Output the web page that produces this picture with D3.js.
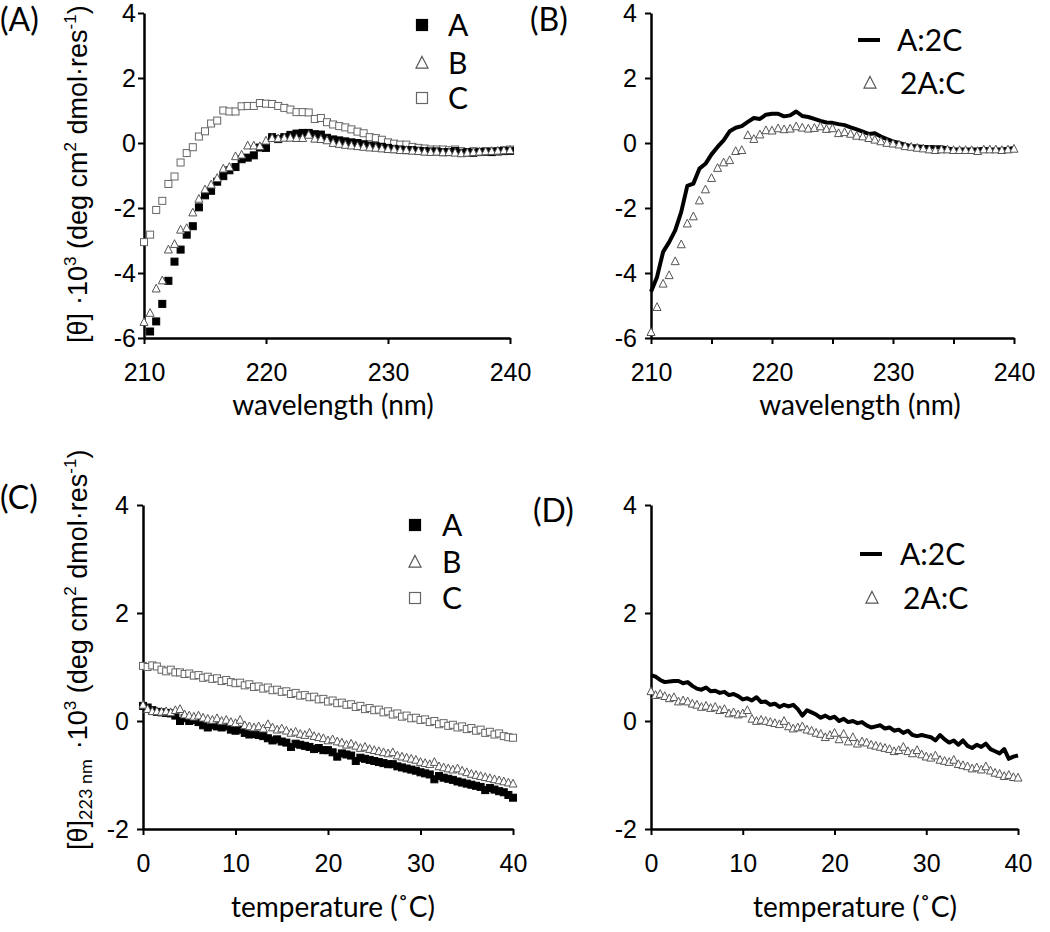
<!DOCTYPE html>
<html>
<head>
<meta charset="utf-8">
<script src="https://cdn.jsdelivr.net/npm/d3@7"></script>
<style>
  body { margin: 0; background: #fff; }
  .tick text { font-family: "Liberation Sans", Arial, sans-serif; font-size: 25px; fill: #000; }
  .axis path, .axis line { stroke: #000; }
</style>
</head>
<body>
<div id="fig"></div>
<script>
// sampling grids of the two kinds of scans
var wavelengths = d3.range(210, 240.001, 0.5);
var temperatures = d3.range(0, 40.001, 0.5);

// (A) CD spectra, [θ]·10^-3
var specA = [null, -5.80, -5.49, -4.95, -4.24, -3.65, -3.28, -2.82, -2.56, -1.98,
  -1.61, -1.47, -1.19, -1.02, -0.84, -0.74, -0.50, -0.45, -0.38, -0.14,
  -0.15, 0.18, 0.12, 0.18, 0.25, 0.29, 0.31, 0.31, 0.27, 0.26,
  0.16, 0.11, 0.08, 0.05, 0.02, 0.00, -0.04, -0.08, -0.10, -0.12,
  -0.15, -0.18, -0.20, -0.22, -0.22, -0.24, -0.25, -0.26, -0.26, -0.28,
  -0.28, -0.25, -0.30, -0.28, -0.30, -0.28, -0.27, -0.28, -0.26, -0.25, -0.24];
var specB = [-5.51, -5.23, -4.48, -4.23, -3.28, -3.11, -2.67, -2.62, -2.14, -1.72,
  -1.43, -1.28, -1.08, -0.79, -0.74, -0.41, -0.36, -0.08, -0.08, -0.10,
  0.07, 0.15, 0.14, 0.16, 0.16, 0.15, 0.15, 0.25, 0.13, 0.12,
  0.08, 0.00, -0.03, -0.06, -0.08, -0.10, -0.12, -0.14, -0.15, -0.17,
  -0.19, -0.20, -0.22, -0.22, -0.24, -0.25, -0.27, -0.28, -0.27, -0.29,
  -0.28, -0.30, -0.32, -0.30, -0.28, -0.27, -0.26, -0.25, -0.24, -0.23, -0.22];
var specC = [-3.05, -2.82, -2.06, -1.78, -1.26, -1.03, -0.60, -0.31, -0.13, 0.20,
  0.36, 0.60, 0.69, 1.00, 0.97, 0.97, 1.13, 1.14, 1.14, 1.23,
  1.21, 1.20, 1.14, 1.08, 1.03, 0.95, 0.95, 0.94, 0.74, 0.77,
  0.64, 0.57, 0.52, 0.48, 0.42, 0.35, 0.30, 0.18, 0.15, 0.10,
  0.02, -0.02, -0.05, -0.05, -0.12, -0.15, -0.17, -0.20, -0.20, -0.20,
  -0.22, -0.20, -0.25, -0.30, -0.25, -0.27, -0.25, -0.25, -0.25, -0.22, -0.20];

// (B) mixtures
var specA2C = [-4.58, -4.12, -3.35, -3.05, -2.69, -2.12, -1.32, -1.25, -0.79, -0.64,
  -0.35, -0.12, 0.08, 0.36, 0.47, 0.52, 0.65, 0.77, 0.74, 0.87,
  0.90, 0.90, 0.82, 0.85, 0.97, 0.83, 0.80, 0.74, 0.68, 0.63,
  0.62, 0.58, 0.55, 0.48, 0.42, 0.35, 0.28, 0.30, 0.20, 0.12,
  0.05, 0.00, -0.05, -0.10, -0.10, -0.12, -0.12, -0.13, -0.13, -0.17,
  -0.20, -0.20, -0.20, -0.20, -0.20, -0.18, -0.20, -0.20, -0.20, -0.18, -0.15];
var spec2AC = [-5.82, -5.05, -4.33, -4.07, -3.64, -3.12, -2.48, -2.26, -1.77, -1.43,
  -1.08, -0.77, -0.60, -0.53, -0.25, -0.22, 0.24, 0.12, 0.26, 0.39,
  0.38, 0.45, 0.42, 0.44, 0.51, 0.47, 0.44, 0.46, 0.51, 0.43,
  0.45, 0.30, 0.33, 0.28, 0.22, 0.20, 0.15, 0.10, 0.05, 0.00,
  -0.02, -0.05, -0.10, -0.12, -0.15, -0.17, -0.20, -0.22, -0.20, -0.20,
  -0.22, -0.22, -0.22, -0.22, -0.25, -0.20, -0.20, -0.20, -0.22, -0.20, -0.18];

// (C) thermal scans at 223 nm
var meltA = [0.28, 0.25, 0.20, 0.17, 0.16, 0.15, 0.14, 0.10, 0.00, 0.05,
  0.00, 0.02, -0.02, -0.08, -0.12, -0.08, -0.10, -0.12, -0.10, -0.16,
  -0.18, -0.16, -0.22, -0.25, -0.24, -0.26, -0.28, -0.32, -0.36, -0.34,
  -0.38, -0.40, -0.48, -0.42, -0.44, -0.46, -0.48, -0.52, -0.50, -0.54,
  -0.54, -0.58, -0.66, -0.60, -0.62, -0.64, -0.74, -0.68, -0.70, -0.72,
  -0.74, -0.76, -0.78, -0.80, -0.80, -0.84, -0.86, -0.88, -0.90, -0.92,
  -0.95, -0.97, -0.99, -1.08, -1.02, -1.05, -1.07, -1.09, -1.12, -1.14,
  -1.16, -1.18, -1.20, -1.22, -1.28, -1.24, -1.27, -1.30, -1.32, -1.37, -1.42];
var meltB = [0.30, 0.22, 0.18, 0.18, 0.17, 0.18, 0.16, 0.20, 0.22, 0.12,
  0.10, 0.08, 0.10, 0.06, 0.04, 0.02, 0.05, 0.00, 0.02, -0.02,
  -0.04, 0.02, -0.08, -0.10, -0.12, -0.10, -0.14, -0.06, -0.12, -0.16,
  -0.14, -0.18, -0.22, -0.20, -0.24, -0.26, -0.22, -0.28, -0.30, -0.32,
  -0.36, -0.34, -0.38, -0.40, -0.44, -0.42, -0.46, -0.50, -0.48, -0.52,
  -0.54, -0.56, -0.58, -0.60, -0.58, -0.64, -0.66, -0.68, -0.70, -0.72,
  -0.76, -0.78, -0.80, -0.76, -0.84, -0.86, -0.88, -0.90, -0.88, -0.92,
  -0.95, -0.98, -1.00, -1.02, -1.04, -1.06, -1.08, -1.10, -1.12, -1.14, -1.16];
var meltC = [1.02, 1.00, 1.03, 1.01, 0.95, 0.92, 0.95, 0.90, 0.90, 0.87,
  0.88, 0.84, 0.85, 0.80, 0.82, 0.78, 0.79, 0.74, 0.76, 0.72,
  0.70, 0.71, 0.66, 0.68, 0.63, 0.64, 0.60, 0.62, 0.57, 0.58,
  0.54, 0.55, 0.50, 0.52, 0.47, 0.48, 0.44, 0.45, 0.40, 0.41,
  0.36, 0.38, 0.33, 0.34, 0.30, 0.31, 0.26, 0.28, 0.22, 0.24,
  0.20, 0.21, 0.16, 0.18, 0.12, 0.14, 0.08, 0.10, 0.05, 0.06,
  0.02, 0.03, -0.02, 0.00, -0.06, -0.04, -0.09, -0.07, -0.12, -0.10,
  -0.15, -0.13, -0.18, -0.16, -0.22, -0.20, -0.25, -0.23, -0.28, -0.30, -0.31];

// (D) thermal scans of mixtures
var meltA2C = [0.85, 0.82, 0.76, 0.72, 0.73, 0.74, 0.74, 0.70, 0.72, 0.65,
  0.60, 0.58, 0.62, 0.55, 0.56, 0.52, 0.54, 0.48, 0.50, 0.46,
  0.40, 0.42, 0.38, 0.44, 0.35, 0.36, 0.30, 0.32, 0.26, 0.30,
  0.27, 0.30, 0.22, 0.10, 0.20, 0.16, 0.12, 0.06, 0.10, 0.05,
  0.08, 0.00, 0.04, -0.02, 0.00, -0.04, -0.02, -0.08, -0.12, -0.10,
  -0.08, -0.14, -0.12, -0.18, -0.16, -0.22, -0.18, -0.26, -0.28, -0.26,
  -0.28, -0.30, -0.36, -0.26, -0.34, -0.40, -0.36, -0.44, -0.36, -0.46,
  -0.50, -0.44, -0.48, -0.42, -0.52, -0.56, -0.60, -0.52, -0.70, -0.66, -0.64];
var melt2AC = [0.55, 0.48, 0.50, 0.46, 0.42, 0.44, 0.36, 0.38, 0.36, 0.32,
  0.30, 0.26, 0.28, 0.24, 0.26, 0.20, 0.22, 0.14, 0.16, 0.12,
  0.14, 0.20, 0.04, 0.00, 0.02, 0.00, -0.02, -0.04, -0.06, 0.00,
  -0.10, -0.14, -0.12, -0.10, -0.16, -0.18, -0.22, -0.24, -0.30, -0.26,
  -0.22, -0.34, -0.24, -0.38, -0.30, -0.42, -0.38, -0.40, -0.44, -0.46,
  -0.48, -0.50, -0.52, -0.56, -0.54, -0.48, -0.56, -0.60, -0.54, -0.62,
  -0.66, -0.68, -0.64, -0.72, -0.74, -0.76, -0.72, -0.80, -0.82, -0.84,
  -0.88, -0.86, -0.90, -0.84, -0.92, -0.96, -0.98, -1.02, -1.00, -1.04, -1.05];

var waveTicks = [210, 220, 230, 240];
var waveMinorTicks = [210, 215, 220, 225, 230, 235, 240];
var tempTicks = [0, 10, 20, 30, 40];
var specYTicks = [-6, -4, -2, 0, 2, 4];
var meltYTicks = [-2, 0, 2, 4];
var singleNames = ["A", "B", "C"];
var mixNames = ["A:2C", "2A:C"];

var width = 1050, height = 932;
var svg = d3.select("#fig").append("svg")
  .attr("width", width).attr("height", height)
  .style("background", "#fff");

function triangle(cx, cy, s) {
  return "M" + cx + "," + (cy - s * 0.55) + "L" + (cx + s / 2) + "," + (cy + s * 0.42) +
    "L" + (cx - s / 2) + "," + (cy + s * 0.42) + "Z";
}

function drawMarks(g, x, y, xs, vals, kind, size) {
  var pts = xs.map(function (v, i) { return { x: v, y: vals[i] }; })
    .filter(function (d) { return d.y !== null; });
  if (kind === "line") {
    g.append("path").datum(pts)
      .attr("d", d3.line().x(function (d) { return x(d.x); }).y(function (d) { return y(d.y); }))
      .attr("fill", "none").attr("stroke", "#000").attr("stroke-width", 4)
      .attr("stroke-linejoin", "round");
  } else if (kind === "tri") {
    g.selectAll(null).data(pts).enter().append("path")
      .attr("d", function (d) { return triangle(x(d.x), y(d.y), size + 1); })
      .attr("fill", "#fff").attr("stroke", "#555").attr("stroke-width", 1);
  } else {
    g.selectAll(null).data(pts).enter().append("rect")
      .attr("x", function (d) { return x(d.x) - size / 2; })
      .attr("y", function (d) { return y(d.y) - size / 2; })
      .attr("width", size).attr("height", size)
      .attr("fill", kind === "filled" ? "#000" : "#fff")
      .attr("stroke", kind === "filled" ? "#000" : "#666")
      .attr("stroke-width", 1);
  }
}

function drawAxes(p) {
  var g = svg.append("g");
  var xa = d3.axisBottom(p.x).tickValues(p.xTicks).tickSize(6).tickSizeOuter(0)
    .tickPadding(19).tickFormat(function (d) { return p.xLabels.indexOf(d) >= 0 ? String(d) : ""; });
  var gx = g.append("g").attr("class", "axis")
    .attr("transform", "translate(0," + p.y.range()[0] + ")").call(xa);
  var ya = d3.axisLeft(p.y).tickValues(p.yTicks).tickSize(6).tickSizeOuter(0)
    .tickPadding(p.yPad).tickFormat(function (d) { return String(d); });
  var gy = g.append("g").attr("class", "axis")
    .attr("transform", "translate(" + p.x.range()[0] + ",0)").call(ya);
  [gx, gy].forEach(function (a) {
    a.select(".domain").attr("stroke-width", 2.5);
    a.selectAll(".tick line").attr("stroke-width", 2);
  });
  return g;
}

function legendSymbols(items) {
  items.forEach(function (it) {
    if (it.kind === "line") {
      svg.append("line").attr("x1", it.x - 11).attr("x2", it.x + 11)
        .attr("y1", it.y).attr("y2", it.y).attr("stroke", "#000").attr("stroke-width", 4);
    } else if (it.kind === "tri") {
      svg.append("path").attr("d", triangle(it.x, it.y, 12))
        .attr("fill", "#fff").attr("stroke", "#555").attr("stroke-width", 1.2);
    } else {
      svg.append("rect").attr("x", it.x - 5.5).attr("y", it.y - 5.5)
        .attr("width", 11).attr("height", 11)
        .attr("fill", it.kind === "filled" ? "#000" : "#fff")
        .attr("stroke", it.kind === "filled" ? "#000" : "#666").attr("stroke-width", 1.2);
    }
    svg.append("text").attr("x", it.tx).attr("y", it.y + 11)
      .style("font-family", "Lato, 'Open Sans', sans-serif").style("font-size", "30px")
      .text(it.label);
  });
}

function label(x, y, txt, size) {
  svg.append("text").attr("x", x).attr("y", y)
    .style("font-family", "Lato, 'Open Sans', sans-serif").style("font-size", (size || 28) + "px")
    .attr("text-anchor", size ? "start" : "middle")
    .text(txt);
}

function yTitle(x, y, sub) {
  var t = svg.append("text")
    .attr("transform", "translate(" + x + "," + y + ") rotate(-90)")
    .style("font-family", "'Liberation Sans', Arial, sans-serif").style("font-size", "27px");
  t.append("tspan").text("[θ]");
  if (sub) {
    t.append("tspan").attr("dy", 5).style("font-size", "18px")
      .style("font-family", "Lato, sans-serif").text("223 nm");
    t.append("tspan").attr("dy", -5).attr("dx", 10).text("·10");
  } else {
    t.append("tspan").attr("dx", 8).text("·10");
  }
  t.append("tspan").attr("dy", -11).style("font-size", "17px").text("3");
  t.append("tspan").attr("dy", 11).text(" (deg cm");
  t.append("tspan").attr("dy", -11).style("font-size", "17px").text("2");
  t.append("tspan").attr("dy", 11).text(" dmol·res");
  t.append("tspan").attr("dy", -11).style("font-size", "17px").text("-1");
  t.append("tspan").attr("dy", 11).text(")");
}

// ---- panel (A)
var pA = {
  x: d3.scaleLinear().domain([210, 240]).range([144, 510]),
  y: d3.scaleLinear().domain([-6, 4]).range([338, 13]),
  xTicks: waveTicks, xLabels: waveTicks, yTicks: specYTicks, yPad: 2
};
var gA = drawAxes(pA);
drawMarks(gA, pA.x, pA.y, wavelengths, specC, "open", 7);
drawMarks(gA, pA.x, pA.y, wavelengths, specA, "filled", 7);
drawMarks(gA, pA.x, pA.y, wavelengths, specB, "tri", 7);
legendSymbols([
  { x: 422, y: 25, tx: 448, kind: "filled", label: singleNames[0] },
  { x: 422, y: 63, tx: 448, kind: "tri", label: singleNames[1] },
  { x: 422, y: 98, tx: 448, kind: "open", label: singleNames[2] }
]);
label(333, 415, "wavelength (nm)");
label(0, 31, "(A)", 32);
yTitle(87, 343, false);

// ---- panel (B)
var pB = {
  x: d3.scaleLinear().domain([210, 240]).range([651, 1014]),
  y: d3.scaleLinear().domain([-6, 4]).range([338, 13]),
  xTicks: waveMinorTicks, xLabels: waveTicks, yTicks: specYTicks, yPad: 8
};
var gB = drawAxes(pB);
drawMarks(gB, pB.x, pB.y, wavelengths, specA2C, "line");
drawMarks(gB, pB.x, pB.y, wavelengths, spec2AC, "tri", 7);
legendSymbols([
  { x: 869, y: 40, tx: 897, kind: "line", label: mixNames[0] },
  { x: 870, y: 83, tx: 900, kind: "tri", label: mixNames[1] }
]);
label(860, 415, "wavelength (nm)");
label(530, 31, "(B)", 32);

// ---- panel (C)
var pC = {
  x: d3.scaleLinear().domain([0, 40]).range([143, 513]),
  y: d3.scaleLinear().domain([-2, 4]).range([829, 505]),
  xTicks: tempTicks, xLabels: tempTicks, yTicks: meltYTicks, yPad: 8
};
var gC = drawAxes(pC);
drawMarks(gC, pC.x, pC.y, temperatures, meltC, "open", 7);
drawMarks(gC, pC.x, pC.y, temperatures, meltA, "filled", 7);
drawMarks(gC, pC.x, pC.y, temperatures, meltB, "tri", 7);
legendSymbols([
  { x: 415, y: 525, tx: 442, kind: "filled", label: singleNames[0] },
  { x: 415, y: 562, tx: 442, kind: "tri", label: singleNames[1] },
  { x: 415, y: 598, tx: 442, kind: "open", label: singleNames[2] }
]);
label(333, 917, "temperature (˚C)");
label(0, 509, "(C)", 32);
yTitle(87, 850, true);

// ---- panel (D)
var pD = {
  x: d3.scaleLinear().domain([0, 40]).range([651, 1018]),
  y: d3.scaleLinear().domain([-2, 4]).range([829, 505]),
  xTicks: tempTicks, xLabels: tempTicks, yTicks: meltYTicks, yPad: 8
};
var gD = drawAxes(pD);
drawMarks(gD, pD.x, pD.y, temperatures, meltA2C, "line");
drawMarks(gD, pD.x, pD.y, temperatures, melt2AC, "tri", 7);
legendSymbols([
  { x: 871, y: 554, tx: 900, kind: "line", label: mixNames[0] },
  { x: 872, y: 598, tx: 903, kind: "tri", label: mixNames[1] }
]);
label(855, 917, "temperature (˚C)");
label(533, 522, "(D)", 32);
</script>
</body>
</html>
